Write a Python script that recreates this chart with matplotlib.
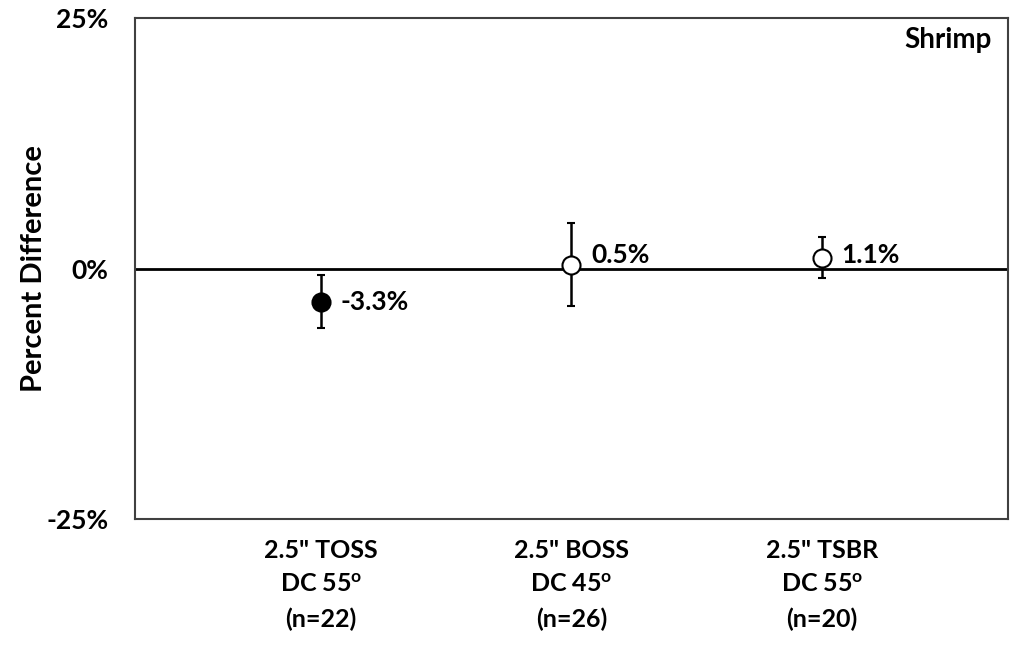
import matplotlib.pyplot as plt
import numpy as np

plt.rcParams['font.family'] = ['Lato', 'DejaVu Sans']
plt.rcParams['font.weight'] = 'bold'
plt.rcParams['mathtext.fontset'] = 'custom'
plt.rcParams['mathtext.rm'] = 'Lato:bold'
plt.rcParams['mathtext.bf'] = 'Lato:bold'

categories = ['2.5" TOSS\nDC 55$^{\\mathrm{o}}$\n(n=22)',
              '2.5" BOSS\nDC 45$^{\\mathrm{o}}$\n(n=26)',
              '2.5" TSBR\nDC 55$^{\\mathrm{o}}$\n(n=20)']
values = [-3.3, 0.4, 1.1]
err_upper = [-0.65, 4.6, 3.2]
err_lower = [-5.9, -3.7, -0.9]
labels = ['-3.3%', '0.5%', '1.1%']
filled = [True, False, False]
label_dy = [0, 7, 2]  # points, label nudge

fig = plt.figure(figsize=(10.15, 6.45), dpi=100)
ax = fig.add_axes([0.133, 0.195, 0.860, 0.777])

x = np.arange(1, len(values) + 1)
ax.axhline(0, color='black', lw=2, zorder=1)
for xi, v, up, lo, lab, f, dy in zip(x, values, err_upper, err_lower, labels, filled, label_dy):
    ax.errorbar(xi, v, yerr=[[v - lo], [up - v]], fmt='o', ms=13,
                mfc='black' if f else 'white', mec='black', mew=1.5,
                ecolor='black', elinewidth=1.8, capsize=3, capthick=1.8, zorder=3)
    ax.annotate(lab, (xi, v), xytext=(14, dy), textcoords='offset points',
                va='center', ha='left', fontsize=19, fontweight='bold')

ax.set_xlim(0.256, 3.744)
ax.set_ylim(-25, 25)
ax.set_yticks([-25, 0, 25])
ax.set_yticklabels(['-25%', '0%', '25%'], fontsize=19, fontweight='bold')
ax.set_xticks(x)
ax.set_xticklabels(categories, fontsize=18, fontweight='bold', linespacing=1.6)
ax.tick_params(axis='y', length=0, pad=19)
ax.tick_params(axis='x', length=0, pad=14)
for s in ax.spines.values():
    s.set_color('#404040')
    s.set_linewidth(1.5)

ax.set_ylabel('Percent Difference', fontsize=21, fontweight='bold')
ax.yaxis.set_label_coords(-0.101, 0.5)
ax.text(0.982, 0.957, 'Shrimp', transform=ax.transAxes, ha='right', va='center',
        fontsize=20, fontweight='bold')

fig.savefig('out.png', dpi=100)
